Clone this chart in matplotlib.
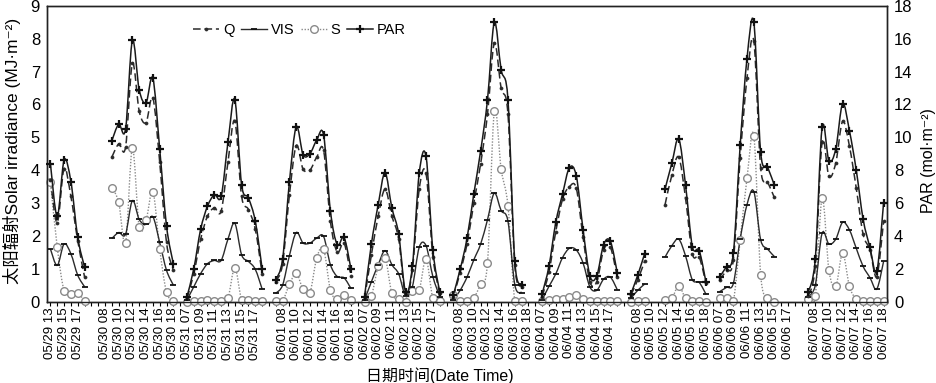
import numpy as np
import matplotlib
matplotlib.use('Agg')
import matplotlib.pyplot as plt
from matplotlib.path import Path
from matplotlib.patches import PathPatch
from matplotlib.lines import Line2D

plt.rcParams['font.family'] = ['Liberation Sans', 'Noto Sans CJK SC', 'DejaVu Sans']

nan = np.nan

# days on the axis, hours 07..18 except the first day (13..18)
dates = ['05/29', '05/30', '05/31', '06/01', '06/02', '06/03', '06/04', '06/05', '06/06', '06/07']
start_hour = [13, 7, 7, 7, 7, 7, 7, 7, 7, 7]
end_hour = 18

# global radiation Q (MJ m-2), one list per day
Q = [
    [3.7, 2.4, 4.05, 3.2, 1.85, 0.75],
    [nan, nan, 4.4, 4.8, 4.7, 7.25, 5.8, 5.45, 6.2, 4.25, 1.8, 0.95],
    [0.1, 0.85, 1.9, 2.6, 2.85, 2.75, 4.25, 5.5, 3.2, 2.8, 2.2, 0.85],
    [0.6, 1.15, 3.25, 4.75, 4.03, 4.0, 4.4, 4.6, 2.44, 1.5, 1.78, 0.78],
    [0.1, 1.42, 2.6, 3.42, 2.6, 1.9, 0.2, 0.96, 3.42, 3.9, 1.37, 0.25],
    [0.15, 0.88, 1.75, 3.0, 4.2, 5.7, 7.87, 6.5, 5.7, 1.1, 0.45, nan],
    [0.15, 0.9, 2.13, 3.12, 3.5, 3.45, 1.95, 0.6, 0.6, 1.57, 1.65, 0.75],
    [0.2, 0.66, 1.22, nan, nan, 2.95, 3.85, 4.4, 3.15, 1.45, 1.35, 0.55],
    [0.66, 0.95, 1.27, 4.37, 6.8, 7.93, 4.07, 3.65, 3.17, nan, nan, nan],
    [0.18, 1.07, 4.85, 3.81, 4.22, 5.49, 4.73, 3.45, 2.05, 1.58, 0.76, 2.44],
]

# visible radiation VIS (MJ m-2)
VIS = [
    [1.6, 1.1, 1.75, 1.45, 0.8, 0.45],
    [nan, nan, 1.92, 2.1, 2.05, 3.07, 2.5, 2.35, 2.58, 1.8, 0.95, 0.5],
    [0.05, 0.45, 0.85, 1.15, 1.25, 1.25, 1.9, 2.38, 1.42, 1.22, 0.98, 0.38],
    [0.25, 0.5, 1.4, 2.1, 1.78, 1.78, 1.93, 1.98, 1.12, 0.76, 0.72, 0.4],
    [0.05, 0.6, 1.12, 1.55, 1.12, 0.84, 0.18, 0.45, 1.65, 1.7, 0.76, 0.15],
    [0.05, 0.34, 0.74, 1.27, 1.75, 2.49, 3.3, 2.77, 2.44, 0.51, 0.27, nan],
    [0.05, 0.46, 0.84, 1.34, 1.62, 1.57, 1.17, 0.44, 0.34, 0.68, 0.74, 0.36],
    [0.1, 0.34, 0.53, nan, nan, 1.35, 1.7, 1.9, 1.39, 0.66, 0.58, 0.22],
    [0.3, 0.43, 0.55, 1.9, 2.95, 3.35, 1.88, 1.6, 1.37, nan, nan, nan],
    [0.15, 0.5, 2.08, 1.75, 1.9, 2.41, 2.18, 1.62, 1.07, 0.73, 0.38, 1.22],
]

# diffuse radiation S (MJ m-2)
S = [
    [3.65, 1.65, 0.33, 0.22, 0.25, 0.02],
    [nan, nan, 3.47, 3.02, 1.78, 4.67, 2.28, 2.47, 3.35, 1.6, 0.28, 0.02],
    [0.0, 0.02, 0.03, 0.05, 0.03, 0.03, 0.1, 1.03, 0.05, 0.05, 0.02, 0.02],
    [0.02, 0.03, 0.52, 0.86, 0.37, 0.27, 1.33, 1.6, 0.35, 0.08, 0.2, 0.05],
    [0.0, 0.17, 1.07, 1.34, 0.25, 0.07, 0.0, 0.33, 0.35, 1.29, 0.1, 0.02],
    [0.2, 0.02, 0.03, 0.12, 0.54, 1.17, 5.79, 4.03, 2.91, 0.02, 0.02, nan],
    [0.02, 0.05, 0.08, 0.08, 0.13, 0.2, 0.08, 0.02, 0.02, 0.02, 0.02, 0.02],
    [0.0, 0.02, 0.02, nan, nan, 0.05, 0.1, 0.48, 0.1, 0.02, 0.02, 0.0],
    [0.12, 0.12, 0.02, 1.88, 3.75, 5.05, 0.82, 0.12, 0.0, nan, nan, nan],
    [0.07, 0.17, 3.15, 0.95, 0.46, 1.47, 0.46, 0.07, 0.02, 0.02, 0.02, 0.02],
]

# photosynthetically active radiation PAR (mol m-2), right axis
PAR = [
    [8.4, 5.2, 8.6, 7.3, 3.9, 2.1],
    [nan, nan, 9.8, 10.8, 10.5, 15.9, 12.9, 12.1, 13.6, 9.3, 4.6, 2.3],
    [0.3, 2.0, 4.4, 5.8, 6.5, 6.4, 9.7, 12.3, 7.1, 6.3, 4.9, 2.0],
    [1.3, 2.6, 7.3, 10.64, 8.94, 9.0, 9.84, 10.14, 5.52, 3.46, 3.9, 2.0],
    [0.3, 3.5, 5.9, 7.84, 5.7, 4.1, 0.6, 2.14, 7.8, 8.84, 3.14, 0.6],
    [0.4, 1.96, 3.84, 6.56, 9.18, 12.28, 17.0, 14.12, 12.28, 2.44, 1.02, nan],
    [0.46, 2.14, 4.82, 6.56, 8.16, 7.66, 4.36, 1.56, 1.56, 3.46, 3.66, 1.76],
    [0.47, 1.6, 2.9, nan, nan, 6.85, 8.43, 9.9, 7.1, 3.35, 3.1, 1.16],
    [1.52, 2.13, 2.95, 9.51, 14.8, 17.0, 9.1, 8.2, 7.1, nan, nan, nan],
    [0.6, 2.6, 10.6, 8.57, 9.29, 12.05, 10.4, 8.0, 5.02, 3.3, 1.83, 6.0],
]

# build the category axis: one slot per hour, one empty slot between days
cat_labels = []
for d, (date, h0) in enumerate(zip(dates, start_hour)):
    for h in range(h0, end_hour + 1):
        cat_labels.append(f'{date} {h:02d}')
    if d < len(dates) - 1:
        cat_labels.append('')
n_cat = len(cat_labels)
xcat = np.arange(n_cat)


def flatten(series):
    out = []
    for d, vals in enumerate(series):
        out.extend(vals)
        if d < len(series) - 1:
            out.append(nan)
    return np.array(out, dtype=float)


def smooth_path(x, y):
    # excel style smoothed line, broken at missing values
    verts, codes = [], []
    ok = np.isfinite(y)
    i = 0
    while i < len(y):
        if not ok[i]:
            i += 1
            continue
        j = i
        while j < len(y) and ok[j]:
            j += 1
        xs, ys = x[i:j], y[i:j]
        n = len(xs)
        if n > 1:
            verts.append((xs[0], ys[0]))
            codes.append(Path.MOVETO)
            for k in range(n - 1):
                p0 = max(k - 1, 0)
                p3 = min(k + 2, n - 1)
                c1 = (xs[k] + (xs[k + 1] - xs[p0]) / 6, ys[k] + (ys[k + 1] - ys[p0]) / 6)
                c2 = (xs[k + 1] - (xs[p3] - xs[k]) / 6, ys[k + 1] - (ys[p3] - ys[k]) / 6)
                verts += [c1, c2, (xs[k + 1], ys[k + 1])]
                codes += [Path.CURVE4] * 3
        i = j
    return Path(verts, codes)


q = flatten(Q)
vis = flatten(VIS)
s = flatten(S)
par = flatten(PAR)

fig = plt.figure(figsize=(9.36, 3.83), dpi=100)
ax = fig.add_axes([47 / 936, 1 - 301.5 / 383, 840 / 936, 295.5 / 383])
ax2 = ax.twinx()

styles = {
    'Q': dict(color='#2b2b2b', ls=(0, (5, 2.5)), lw=1.1, marker='o', ms=2.2, mfc='#2b2b2b', mec='#2b2b2b', mew=0.5),
    'VIS': dict(color='#2b2b2b', ls='-', lw=1.0, marker='_', ms=4.5, mfc='#2b2b2b', mec='#111111', mew=1.3),
    'S': dict(color='#8a8a8a', ls=(0, (1, 1.2)), lw=1.0, marker='o', ms=5.5, mfc='white', mec='#8a8a8a', mew=1.0),
    'PAR': dict(color='#1a1a1a', ls='-', lw=1.1, marker='+', ms=6.2, mfc='#111111', mec='#111111', mew=1.6),
}

for name, yv, a in [('S', s, ax), ('VIS', vis, ax), ('Q', q, ax), ('PAR', par, ax2)]:
    st = styles[name]
    a.add_patch(PathPatch(smooth_path(xcat.astype(float), yv), fill=False,
                          edgecolor=st['color'], linestyle=st['ls'], lw=st['lw'], zorder=2))
    a.plot(xcat, yv, ls='none', marker=st['marker'], ms=st['ms'], mfc=st['mfc'],
           mec=st['mec'], mew=st['mew'], zorder=3, clip_on=False)

ax.set_xlim(-0.5, n_cat - 0.5)
ax.set_ylim(0, 9)
ax2.set_ylim(0, 18)
ax.set_yticks(range(0, 10))
ax2.set_yticks(range(0, 19, 2))

ax.set_xticks(xcat[::2])
ax.set_xticklabels(cat_labels[::2], rotation=90, fontsize=9.5)
ax.set_xticks(xcat, minor=True)
ax.tick_params(axis='x', which='both', direction='out', length=3, width=0.8, pad=1.5)
ax.tick_params(axis='y', direction='out', length=0, labelsize=12, pad=5)
ax2.tick_params(axis='y', direction='out', length=0, labelsize=12, pad=5)

for a in (ax, ax2):
    for sp in a.spines.values():
        sp.set_linewidth(1.0)
        sp.set_color('#222222')

fig.text(12 / 936, 0.605, '太阳辐射Solar irradiance (MJ·m⁻²)', rotation=90,
         ha='center', va='center', fontsize=12.5)
fig.text(928 / 936, 0.58, 'PAR (mol·m⁻²)', rotation=90, ha='center', va='center', fontsize=11.5)
fig.text(440 / 936, 0.018, '日期时间(Date Time)', ha='center', va='center', fontsize=11.5)

handles = []
for name in ['Q', 'VIS', 'S', 'PAR']:
    st = styles[name]
    handles.append(Line2D([], [], color=st['color'], ls=st['ls'], lw=st['lw'], marker=st['marker'],
                          ms=st['ms'], mfc=st['mfc'], mec=st['mec'], mew=st['mew']))
ax2.legend(handles, ['Q', 'VIS', 'S', 'PAR'], loc='center left',
           bbox_to_anchor=((193 - 47) / 840, 1 - (30 - 6) / 295.5), ncol=4, frameon=False,
           fontsize=10.5, handlelength=1.8, handletextpad=0.25, columnspacing=0.45,
           borderaxespad=0, borderpad=0)

fig.savefig('out.png', dpi=100)
